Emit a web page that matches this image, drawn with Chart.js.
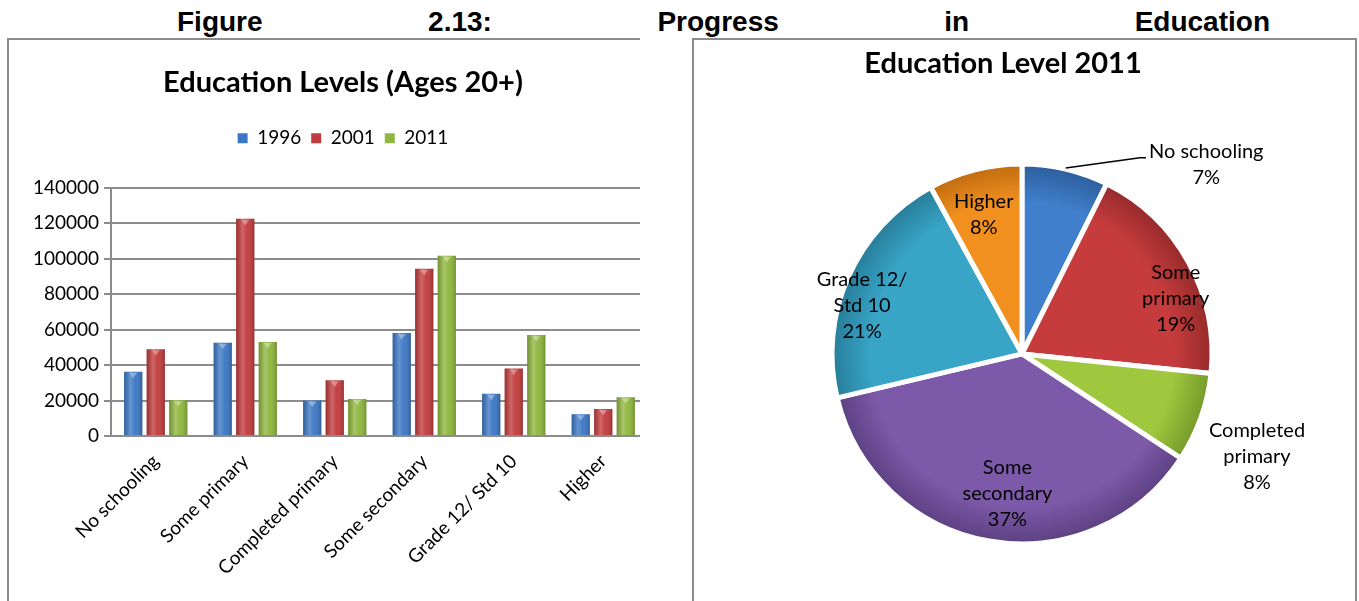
<!DOCTYPE html>
<html>
<head>
<meta charset="utf-8">
<title>Progress in Education</title>
<script src="https://cdn.jsdelivr.net/npm/chart.js@4.4.1/dist/chart.umd.min.js"></script>
<style>
    html, body { margin: 0; padding: 0; background: #fff; overflow: hidden; }
    body { width: 1359px; height: 601px; position: relative; }
    .fig-title {
        position: absolute; left: 177px; top: 6px; width: 1093px;
        font: bold 28px/32px "Liberation Sans", Arial, sans-serif;
        text-align: justify; text-align-last: justify; color: #000;
    }
    .panel { position: absolute; box-sizing: border-box; border: 2px solid #8c8c8c; overflow: hidden; }
    #barPanel { left: 7px; top: 38px; width: 633px; height: 620px; border-right: none; border-bottom: none; }
    #piePanel { left: 692px; top: 38px; width: 665px; height: 620px; border-bottom: none; }
    canvas { position: absolute; left: 0; top: 0; }
</style>
</head>
<body>
<div class="fig-title">Figure 2.13: Progress in Education</div>
<div class="panel" id="barPanel"><canvas id="barChart" width="668" height="561"></canvas></div>
<div class="panel" id="piePanel"><canvas id="pieChart" width="618" height="600"></canvas></div>

<script>
// Adults aged 20+ by highest level of education
const categories = ["No schooling", "Some primary", "Completed primary", "Some secondary", "Grade 12/ Std 10", "Higher"];
const years = ["1996", "2001", "2011"];
const count1996 = [36200, 52600, 20000, 58100, 23800, 12300];
const count2001 = [49000, 122500, 31500, 94300, 38100, 15300];
const count2011 = [20200, 53000, 20900, 101700, 57000, 21900];
const yMax = 140000;
const yStep = 20000;

// pie slice names split over lines
const pieNames = [["No schooling"], ["Some", "primary"], ["Completed", "primary"], ["Some", "secondary"], ["Grade 12/", "Std 10"], ["Higher"]];

const barColors = ["#3b77c4", "#c23b3c", "#8fb63d"];
const pieColors = ["#3f7fcb", "#c63c3d", "#a0c83e", "#7d5aa9", "#38a4c6", "#f2901f"];
const pieEdges = ["#2d5e9c", "#962a2b", "#769a2a", "#5d4082", "#277d99", "#c06c10"];

// label placement: share of radius and a turn (degrees) off the slice middle
const pieLabelRadius = [1.39, 0.86, 1.35, 0.74, 0.88, 0.76];
const pieLabelTurn = [31, 9, 4, -4, -7, -1];
const pieLeader = [true, false, false, false, false, false];
const pieRadius = 190;

Chart.defaults.font.family = "Lato, 'Open Sans', sans-serif";
Chart.defaults.color = "#000";

// extra room between the legend and the plot
const legendGap = {
    id: "legendGap",
    beforeInit(chart, args, opts) {
        const fit = chart.legend.fit;
        chart.legend.fit = function () {
            fit.call(this);
            this.height += opts.gap;
        };
    },
};

// cylinder-ish sheen on the bars
const barSheen = {
    id: "barSheen",
    afterDatasetsDraw(chart) {
        const ctx = chart.ctx;
        chart.data.datasets.forEach((ds, i) => {
            chart.getDatasetMeta(i).data.forEach((bar) => {
                const { x, y, base, width } = bar.getProps(["x", "y", "base", "width"], true);
                const left = x - width / 2;
                const g = ctx.createLinearGradient(left, 0, left + width, 0);
                g.addColorStop(0, "rgba(0,0,0,0.20)");
                g.addColorStop(0.35, "rgba(255,255,255,0.22)");
                g.addColorStop(0.6, "rgba(255,255,255,0.04)");
                g.addColorStop(1, "rgba(0,0,0,0.22)");
                ctx.save();
                ctx.fillStyle = g;
                ctx.fillRect(left, y, width, base - y);
                ctx.fillStyle = "rgba(255,255,255,0.35)";
                ctx.beginPath();
                ctx.moveTo(left + width * 0.28, y + 1);
                ctx.lineTo(left + width * 0.72, y + 1);
                ctx.lineTo(x, y + 1 + width * 0.3);
                ctx.closePath();
                ctx.fill();
                ctx.restore();
            });
        });
    },
};

new Chart(document.getElementById("barChart"), {
    type: "bar",
    data: {
        labels: categories,
        datasets: [
            { label: years[0], data: count1996, backgroundColor: barColors[0] },
            { label: years[1], data: count2001, backgroundColor: barColors[1] },
            { label: years[2], data: count2011, backgroundColor: barColors[2] },
        ],
    },
    options: {
        responsive: false,
        animation: false,
        categoryPercentage: 0.755,
        barPercentage: 0.81,
        layout: { padding: 0 },
        plugins: {
            title: {
                display: true,
                text: "Education Levels (Ages 20+)",
                font: { size: 29, weight: "bold" },
                padding: { top: 25, bottom: 19 },
            },
            legend: {
                position: "top",
                labels: { boxWidth: 10, boxHeight: 10, padding: 10, font: { size: 19 } },
            },
            legendGap: { gap: 30 },
            tooltip: { enabled: false },
        },
        scales: {
            x: {
                grid: { display: false },
                border: { display: true, color: "#8c8c8c", width: 2 },
                ticks: { minRotation: 45, maxRotation: 45, padding: 6, font: { size: 19 } },
                afterFit(scale) {
                    scale.height = 165;
                    scale.paddingRight = 29;
                },
            },
            y: {
                min: 0,
                max: yMax,
                grid: { color: "#8c8c8c", lineWidth: 2, tickLength: 7 },
                border: { display: true, color: "#8c8c8c", width: 2 },
                ticks: { stepSize: yStep, padding: 5, font: { size: 19 }, callback: (v) => String(v) },
                afterFit(scale) {
                    scale.width = 102;
                },
            },
        },
    },
    plugins: [legendGap, barSheen],
});

// move the pie a little right of the title
const pieNudge = {
    id: "pieNudge",
    afterLayout(chart, args, opts) {
        chart.chartArea.left += opts.dx;
        chart.chartArea.right += opts.dx;
    },
};

const pieLabels = {
    id: "pieLabels",
    afterDatasetsDraw(chart) {
        const ctx = chart.ctx;
        const values = chart.data.datasets[0].data;
        const total = values.reduce((s, v) => s + v, 0);
        const lineH = 26;
        ctx.save();
        ctx.font = "20px Lato, 'Open Sans', sans-serif";
        ctx.fillStyle = "#000";
        ctx.textAlign = "center";
        ctx.textBaseline = "middle";
        chart.getDatasetMeta(0).data.forEach((arc, i) => {
            const { x, y, startAngle, endAngle, outerRadius } = arc.getProps(
                ["x", "y", "startAngle", "endAngle", "outerRadius"], true);
            const mid = (startAngle + endAngle) / 2;
            const ang = mid + (pieLabelTurn[i] * Math.PI) / 180;
            const r = outerRadius * pieLabelRadius[i];
            const lx = x + Math.cos(ang) * r;
            const ly = y + Math.sin(ang) * r;
            const lines = pieNames[i].concat(Math.round((values[i] / total) * 100) + "%");
            const top = ly - ((lines.length - 1) * lineH) / 2;
            lines.forEach((t, k) => ctx.fillText(t, lx, top + k * lineH));
            if (pieLeader[i]) {
                const w = ctx.measureText(lines[0]).width;
                const ex = lx - w / 2 - 3;
                const ey = top + 6;
                ctx.strokeStyle = "#000";
                ctx.lineWidth = 1.5;
                ctx.beginPath();
                ctx.moveTo(x + Math.cos(mid) * (outerRadius + 1), y + Math.sin(mid) * (outerRadius + 1));
                ctx.lineTo(ex - 6, ey);
                ctx.lineTo(ex, ey);
                ctx.stroke();
            }
        });
        ctx.restore();
    },
};

new Chart(document.getElementById("pieChart"), {
    type: "pie",
    data: {
        labels: categories,
        datasets: [
            {
                data: count2011,
                backgroundColor(c) {
                    const area = c.chart.chartArea;
                    if (!area) return pieColors[c.dataIndex];
                    const cx = (area.left + area.right) / 2;
                    const cy = (area.top + area.bottom) / 2;
                    const g = c.chart.ctx.createRadialGradient(cx, cy, 0, cx, cy, pieRadius);
                    g.addColorStop(0, pieColors[c.dataIndex]);
                    g.addColorStop(0.8, pieColors[c.dataIndex]);
                    g.addColorStop(1, pieEdges[c.dataIndex]);
                    return g;
                },
                borderColor: "#fff",
                borderWidth: 5,
            },
        ],
    },
    options: {
        responsive: false,
        animation: false,
        radius: pieRadius,
        layout: { padding: { bottom: 13 } },
        plugins: {
            title: {
                display: true,
                text: "Education Level 2011",
                font: { size: 29, weight: "bold" },
                padding: { top: 6, bottom: 0 },
            },
            legend: { display: false },
            tooltip: { enabled: false },
            pieNudge: { dx: 19 },
        },
    },
    plugins: [pieNudge, pieLabels],
});
</script>
</body>
</html>
